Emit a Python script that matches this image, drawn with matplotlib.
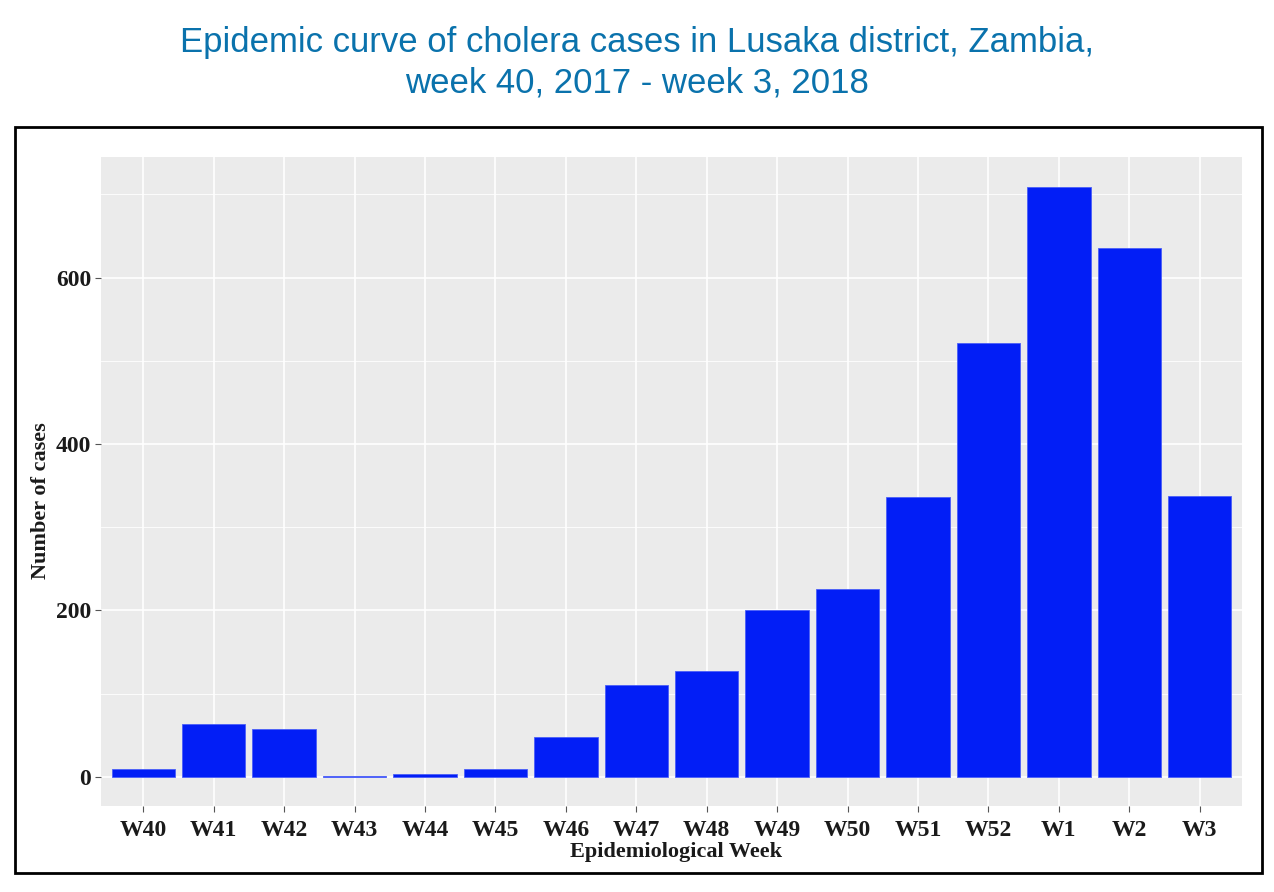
import matplotlib
matplotlib.use("Agg")
import matplotlib.pyplot as plt
from matplotlib.patches import Rectangle
import numpy as np

# weekly cholera cases, Lusaka district
weeks = ["W40", "W41", "W42", "W43", "W44", "W45", "W46", "W47",
         "W48", "W49", "W50", "W51", "W52", "W1", "W2", "W3"]
cases = [10, 64, 58, 1, 4, 10, 48, 111, 127, 201, 226, 336, 521, 709, 636, 338]
y_ticks = [0, 200, 400, 600]

title = "Epidemic curve of cholera cases in Lusaka district, Zambia,\nweek 40, 2017 - week 3, 2018"

serif = ["Liberation Serif", "DejaVu Serif"]

fig = plt.figure(figsize=(12.74, 8.92), dpi=100)
ax = fig.add_axes([0.0793, 0.0964, 0.8956, 0.7276])

x = np.arange(len(weeks))
ax.set_facecolor("#EBEBEB")
ax.set_axisbelow(True)
ax.bar(x, cases, width=0.9, color="#021EF6", edgecolor="#4a5ef8", linewidth=0.6, zorder=3)

ax.set_xlim(-0.6, len(weeks) - 0.4)
ax.set_ylim(-35, 745)
ax.set_xticks(x)
ax.set_xticklabels(weeks)
ax.set_yticks(y_ticks)
ax.set_yticks([100, 300, 500, 700], minor=True)
ax.grid(True, which="major", color="white", linewidth=1.2)
ax.grid(True, which="minor", axis="y", color="white", linewidth=0.6)
ax.tick_params(axis="both", which="major", length=4, color="#555555", labelsize=17)
ax.tick_params(axis="x", which="major", pad=6)
ax.tick_params(axis="y", which="major", pad=3)
ax.tick_params(axis="y", which="minor", length=0)
for lab in ax.get_xticklabels() + ax.get_yticklabels():
    lab.set_family(serif)
    lab.set_fontweight("bold")
    lab.set_color("#1a1a1a")
for s in ax.spines.values():
    s.set_visible(False)

ax.set_xlabel("Epidemiological Week", family=serif, fontweight="bold", fontsize=16,
              color="#1a1a1a", va="center")
ax.set_ylabel("Number of cases", family=serif, fontweight="bold", fontsize=16,
              color="#1a1a1a", va="center")
ax.xaxis.set_label_coords(0.504, -0.071)
ax.yaxis.set_label_coords(-0.053, 0.471)

fig.text(0.5, 0.930, title, ha="center", va="center", fontsize=25, color="#0A72AC",
         family=["Liberation Sans Narrow", "Liberation Sans", "DejaVu Sans"],
         linespacing=1.28)

border = Rectangle((0.0118, 0.0213), 0.9788, 0.8363, transform=fig.transFigure,
                   fill=False, edgecolor="black", linewidth=2)
fig.patches.append(border)

fig.savefig("out.png", dpi=100)
